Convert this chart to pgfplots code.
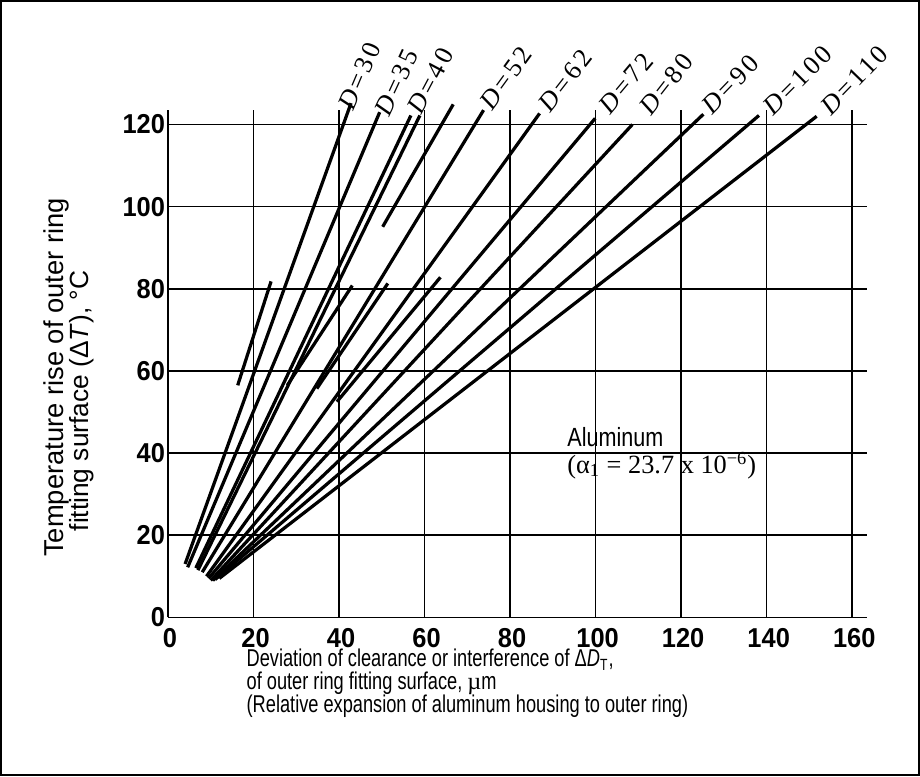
\documentclass[border=0pt]{standalone}
\usepackage{fontspec}
\setmainfont{Liberation Sans}
\newfontfamily\narrowfont[FakeStretch=0.82]{Liberation Sans}
\newfontfamily\xlabfont[FakeStretch=0.75]{Liberation Sans}
\newfontfamily\tickfont[FakeStretch=0.93]{Liberation Sans}
\newfontfamily\seriffont{Liberation Serif}
\newfontfamily\dfont[LetterSpace=12]{Liberation Serif}
\usepackage{pgfplots}
\pgfplotsset{compat=1.18}
\begin{document}
\begin{tikzpicture}
\begin{axis}[
  scale only axis, width=338pt, height=243.5pt,
  xmin=0, xmax=160, ymin=0, ymax=120,
  axis line style={draw=none},
  major tick style={draw=none},
  xtick={0,20,...,160}, ytick={0,20,...,120},
  /pgf/number format/assume math mode=true,
  ticklabel style={font=\tickfont\fontsize{13.5}{13.5}\selectfont\bfseries},
  xticklabel style={yshift=-2pt, xshift=1pt},
  yticklabel style={xshift=2pt},
  clip=false,
  dl/.style={black, line width=1.6pt, no markers},
]
% grid
\pgfplotsinvokeforeach{0,20,...,160}{\draw[line width=0.8pt] (axis cs:#1,0) -- (axis cs:#1,123.5);}
\pgfplotsinvokeforeach{0,20,...,120}{\draw[line width=0.8pt] (axis cs:0,#1) -- (axis cs:163.5,#1);}
% long lines
\addplot[dl] coordinates {(4.0,13.0) (42.8,125.2)};
\addplot[dl] coordinates {(4.6,12.2) (49.5,123.0)};
\addplot[dl] coordinates {(6.5,12.0) (56.8,122.2)};
\addplot[dl] coordinates {(7.0,11.5) (58.9,122.2)};
\addplot[dl] coordinates {(8.0,11.0) (73.8,123.5)};
\addplot[dl] coordinates {(9.0,10.0) (86.9,122.7)};
\addplot[dl] coordinates {(9.5,9.5) (99.9,121.5)};
\addplot[dl] coordinates {(10.0,9.0) (108.6,120.0)};
\addplot[dl] coordinates {(10.5,9.0) (125.2,122.5)};
\addplot[dl] coordinates {(11.0,9.2) (138.2,122.2)};
\addplot[dl] coordinates {(12.0,9.5) (151.7,122.0)};
% short segments
\addplot[dl] coordinates {(16.3,56.5) (24.1,81.8)};
\addplot[dl] coordinates {(27.9,56.5) (43.1,80.8)};
\addplot[dl] coordinates {(34.8,55.7) (51.4,81.3)};
\addplot[dl] coordinates {(39.5,52.5) (63.7,82.8)};
\addplot[dl] coordinates {(50.2,95.1) (66.7,124.9)};
% D labels
\begin{scope}[every node/.style={font=\dfont\fontsize{13}{13}\selectfont, inner sep=0pt, anchor=south west}]
\node[rotate=67] at (axis cs:43.6,123.0) {\textit{D}=30};
\node[rotate=65] at (axis cs:52.0,121.5) {\textit{D}=35};
\node[rotate=62] at (axis cs:59.4,122.0) {\textit{D}=40};
\node[rotate=54] at (axis cs:76.0,123.0) {\textit{D}=52};
\node[rotate=52] at (axis cs:89.5,122.5) {\textit{D}=62};
\node[rotate=50] at (axis cs:103.4,122.0) {\textit{D}=72};
\node[rotate=52] at (axis cs:113.1,121.7) {\textit{D}=80};
\node[rotate=46] at (axis cs:127.4,122.0) {\textit{D}=90};
\node[rotate=45] at (axis cs:141.6,121.7) {\textit{D}=100};
\node[rotate=46] at (axis cs:155.1,121.7) {\textit{D}=110};
\end{scope}
% annotation
\node[anchor=west, inner sep=0pt, font=\narrowfont\fontsize{13}{14}\selectfont] at (axis cs:93.3,43.9) {Aluminum};
\node[anchor=west, inner sep=0pt, font=\seriffont\fontsize{13}{14}\selectfont] at (axis cs:93.3,37) {(α\textsubscript{1} = 23.7 x 10\textsuperscript{−6})};
% axis labels
\node[rotate=90, inner sep=0pt, font=\fontsize{13.5}{13.5}\selectfont] at (axis cs:-26.0,58.4) {Temperature rise of outer ring};
\node[rotate=90, inner sep=0pt, font=\fontsize{13}{13}\selectfont] at (axis cs:-20.1,52.7) {fitting surface (Δ\textit{T}), °C};
\node[anchor=north west, align=left, inner sep=0pt, font=\xlabfont\fontsize{12}{11.4}\selectfont] at (axis cs:18.3,-7.6) {Deviation of clearance or interference of Δ\textit{D}\textsubscript{T},\\of outer ring fitting surface, {\seriffont µ}m\\(Relative expansion of aluminum housing to outer ring)};
\end{axis}
\draw[line width=1pt] (-82.5pt,-78pt) rectangle (371pt,304.5pt);
\end{tikzpicture}
\end{document}
